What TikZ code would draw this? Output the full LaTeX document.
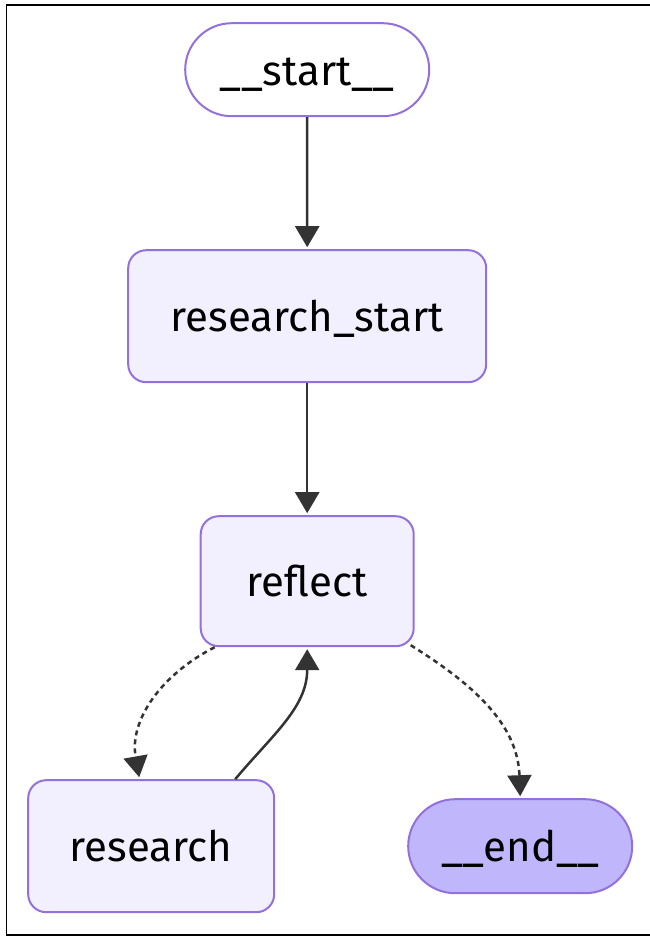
\documentclass[tikz,border=0pt]{standalone}
\usepackage{fontspec}
\setmainfont{Fira Sans}
\usepackage{xcolor}
\usetikzlibrary{shapes.misc,arrows.meta}

\definecolor{nodefill}{HTML}{F2F0FF}
\definecolor{nodeline}{HTML}{9370DB}
\definecolor{endfill}{HTML}{BFB6FC}
\definecolor{edgeline}{HTML}{333333}

\begin{document}
\begin{tikzpicture}[x=1pt,y=1pt,
  box/.style={draw=nodeline,fill=nodefill,line width=2pt,rounded corners=18pt,anchor=center,
    font=\fontsize{42}{50}\selectfont,text height=31pt,text depth=0pt,inner sep=0pt},
  terminal/.style={draw=nodeline,line width=2pt,rounded rectangle,anchor=center,
    font=\fontsize{42}{50}\selectfont,text height=31pt,text depth=0pt,inner sep=0pt},
  edge/.style={draw=edgeline,line width=2.5pt,-{Triangle[length=21pt,width=24pt]}},
  cond/.style={edge,dash pattern=on 5pt off 4pt}]
\useasboundingbox (0,0) rectangle (649,-936);
\draw[line width=1.5pt] (6.5,-5) rectangle (700,-935);
\matrix[anchor=north west,inner sep=0pt,column sep=-148pt,row sep=132pt] at (27,-22)
  {
    & \node[terminal,fill=white,minimum width=244pt,minimum height=93pt] (start) {\_\_start\_\_}; \\
    & \node[box,minimum width=358pt,minimum height=132pt] (researchstart) {research\_start}; \\
    & \node[box,minimum width=213pt,minimum height=130pt] (reflect) {reflect}; \\
    \node[box,minimum width=246pt,minimum height=132pt] (research) {research}; & &[68pt] \node[terminal,fill=endfill,minimum width=224pt,minimum height=94pt] (end) {\_\_end\_\_}; \\
  };
\draw[edge,shorten >=2pt] (start) -- (researchstart);
\draw[edge,shorten >=2pt] (researchstart) -- (reflect);
\draw[cond] ([xshift=15pt]reflect.south west) to[out=207,in=100] ([xshift=-12pt,yshift=2pt]research.north);
\draw[edge] ([xshift=84pt]research.north) to[out=50,in=-90] ([yshift=-2pt]reflect.south);
\draw[cond] ([xshift=-4pt,yshift=2pt]reflect.south east) to[out=-32,in=92] ([yshift=2pt]end.north);
\end{tikzpicture}
\end{document}
